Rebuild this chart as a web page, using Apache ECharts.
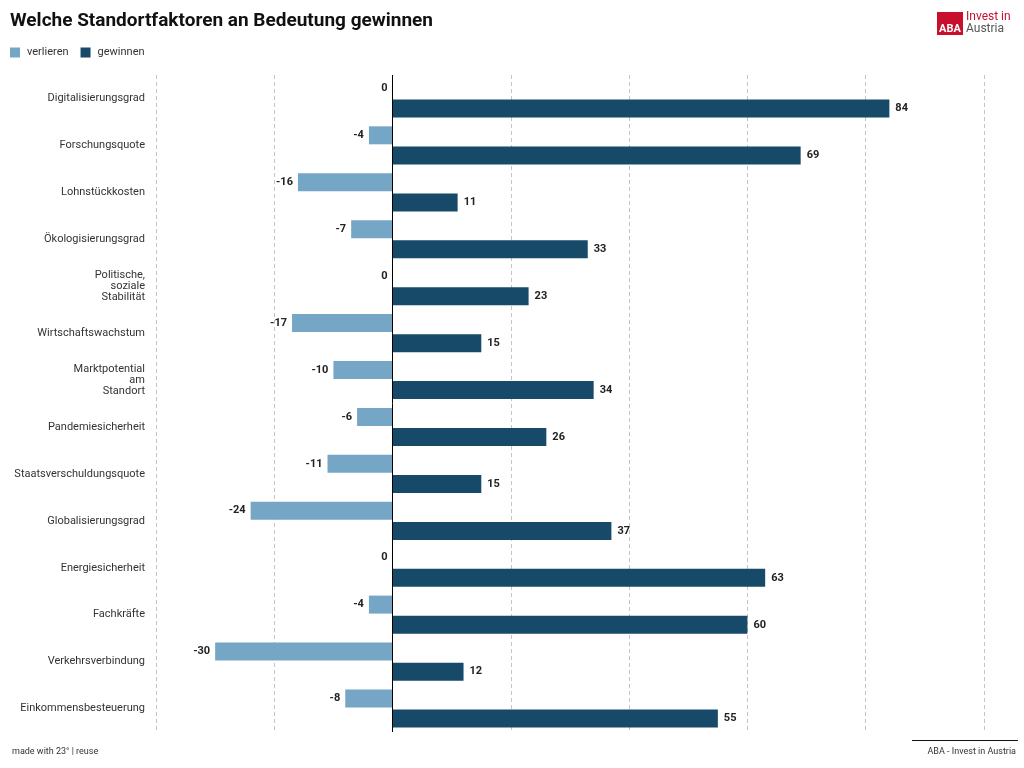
<!DOCTYPE html>
<html><head><meta charset="utf-8">
<script src="https://cdn.jsdelivr.net/npm/echarts@6/dist/echarts.min.js"></script>
<style>html,body{margin:0;padding:0;background:#fff}#c{width:1024px;height:768px}</style>
</head><body><div id="c"></div>
<script>
const categories = ["Digitalisierungsgrad","Forschungsquote","Lohnstückkosten","Ökologisierungsgrad","Politische,\nsoziale\nStabilität","Wirtschaftswachstum","Marktpotential\nam\nStandort","Pandemiesicherheit","Staatsverschuldungsquote","Globalisierungsgrad","Energiesicherheit","Fachkräfte","Verkehrsverbindung","Einkommensbesteuerung"];
const verlieren = [0,-4,-16,-7,0,-17,-10,-6,-11,-24,0,-4,-30,-8];
const gewinnen = [84,69,11,33,23,15,34,26,15,37,63,60,12,55];
const seriesNames = ["verlieren","gewinnen"];

const FONT = 'Roboto, "Noto Sans", sans-serif';
const chart = echarts.init(document.getElementById('c'), null, {renderer:'canvas'});
chart.setOption({
  animation:false,
  textStyle:{fontFamily:FONT},
  title:{text:'Welche Standortfaktoren an Bedeutung gewinnen',left:10,top:12,padding:0,
    textStyle:{fontFamily:FONT,fontSize:19,fontWeight:'bold',color:'#111'}},
  legend:{left:10,top:47,padding:0,itemWidth:10,itemHeight:10,itemGap:12,icon:'rect',
    textStyle:{fontFamily:FONT,fontSize:11,color:'#333',padding:[0,0,0,2]},data:seriesNames},
  grid:{left:156,right:40,top:75,bottom:36},
  xAxis:{type:'value',min:-40,max:100,interval:20,
    axisLabel:{show:false},axisLine:{show:false},axisTick:{show:false},
    splitLine:{show:true,lineStyle:{color:'#c4c4c4',type:[4,3],width:1}}},
  yAxis:{type:'category',data:categories,inverse:true,
    axisLine:{show:false,onZero:false},axisTick:{show:false},
    axisLabel:{margin:11,fontFamily:FONT,fontSize:11,color:'#333',lineHeight:11,align:'right'}},
  series:[
    {name:seriesNames[0],type:'bar',data:verlieren,barWidth:18,barGap:'12%',
     itemStyle:{color:'#76a6c5'},
     label:{show:true,position:'left',distance:5,fontFamily:FONT,fontSize:11,fontWeight:'bold',color:'#222'},
     markLine:{silent:true,symbol:'none',label:{show:false},
       lineStyle:{color:'#000',type:'solid',width:1},data:[{xAxis:0}]}},
    {name:seriesNames[1],type:'bar',data:gewinnen,barWidth:18,
     itemStyle:{color:'#174a69'},
     label:{show:true,position:'right',distance:6,fontFamily:FONT,fontSize:11,fontWeight:'bold',color:'#222'}}
  ],
  graphic:[
    {type:'rect',shape:{x:937,y:12,width:26,height:23},style:{fill:'#c8102e'}},
    {type:'text',style:{x:950,y:29,text:'ABA',fill:'#fff',font:'bold 11px '+FONT,textAlign:'center',textVerticalAlign:'middle'}},
    {type:'text',style:{x:966,y:17,text:'Invest in',fill:'#c8102e',font:'12px '+FONT,textVerticalAlign:'middle'}},
    {type:'text',style:{x:966,y:29,text:'Austria',fill:'#555',font:'12px '+FONT,textVerticalAlign:'middle'}},
    {type:'text',style:{x:12,y:752,text:'made with 23° | reuse',fill:'#333',font:'9px '+FONT,textVerticalAlign:'middle'}},
    {type:'line',shape:{x1:912,y1:740.5,x2:1018,y2:740.5},style:{stroke:'#111',lineWidth:1}},
    {type:'text',style:{x:1016,y:752,text:'ABA - Invest in Austria',fill:'#333',font:'9px '+FONT,textAlign:'right',textVerticalAlign:'middle'}}
  ]
});
</script></body></html>
